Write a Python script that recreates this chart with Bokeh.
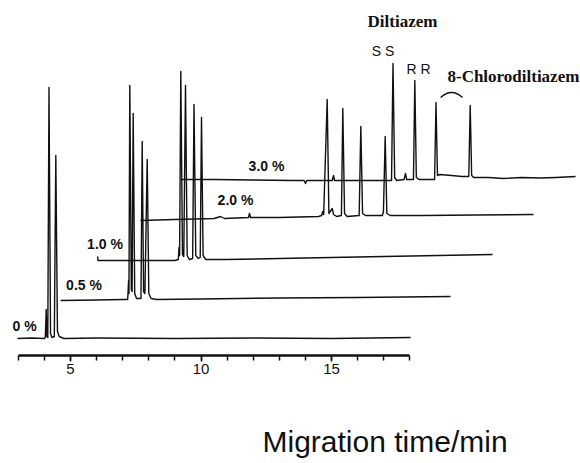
from bokeh.plotting import figure
from bokeh.models import FixedTicker, Range1d
from bokeh.core.properties import value
from bokeh.embed import file_html
from bokeh.resources import INLINE

# ---------------- data (x: migration time / min, y: detector signal, arbitrary units) -------------
t0_x = [2.97, 3.50, 4.00, 4.035, 4.069, 4.095, 4.13, 4.176, 4.235, 4.29, 4.38, 4.437, 4.50, 4.57, 4.75, 6.0, 9.0, 12.0, 15.0, 18.03]
t0_y = [17, 17.5, 17, 18, 46, 19, 18, 268, 22, 18, 19, 200, 24, 19, 17, 17.5, 17, 17.5, 17, 18]

t05_x = [4.62, 6.0, 7.0, 7.19, 7.21, 7.225, 7.24, 7.272, 7.33, 7.36, 7.402, 7.46, 7.53, 7.70, 7.747, 7.80, 7.85, 7.939, 8.00, 8.09, 8.3, 10.0, 13.0, 16.0, 19.56]
t05_y = [55, 55.5, 56, 56, 66, 75, 62, 270, 66, 64, 242, 62, 57, 57, 214, 64, 62, 196, 62, 57, 56, 56.5, 57.5, 58, 59]

t10_x = [6.046, 6.05, 7.5, 9.0, 9.13, 9.157, 9.18, 9.226, 9.29, 9.34, 9.406, 9.47, 9.55, 9.68, 9.732, 9.80, 9.90, 9.97, 10.019, 10.08, 10.18, 11.0, 14.0, 17.0, 21.17]
t10_y = [99, 95, 95, 95, 96, 108, 100, 284, 101, 99, 270, 100, 96, 97, 251, 100, 97, 98, 238, 100, 96, 96, 97.5, 99, 101]

t20_x = [7.682, 9.0, 10.5, 10.75, 10.9, 11.82, 11.858, 11.9, 13.0, 14.5, 14.62, 14.667, 14.70, 14.835, 14.90, 15.027, 15.08, 15.20, 15.38, 15.433, 15.50, 15.60, 16.06, 16.123, 16.19, 16.30, 16.95, 16.99, 17.057, 17.12, 17.25, 18.5, 20.5, 22.74]
t20_y = [135, 136, 137, 139, 137, 138, 142, 138, 138, 139, 140, 144, 141, 256, 142, 147, 141, 139, 140, 247, 142, 139, 140, 229, 142, 140, 140, 144, 219, 142, 140, 140, 140.5, 141]

t30_x = [9.215, 10.5, 12.0, 13.5, 13.95, 14.004, 14.05, 15.03, 15.077, 15.12, 16.5, 17.30, 17.356, 17.42, 17.50, 17.78, 17.835, 17.88, 18.14, 18.192, 18.25, 18.35, 18.95, 19.004, 19.06, 19.15, 19.6, 20.0, 20.26, 20.314, 20.37, 20.45, 21.0, 21.6, 22.3, 23.0, 23.6, 24.35]
t30_y = [176, 176, 175.5, 175, 175, 172, 175, 175, 180, 175, 175, 175, 292, 178, 175, 176, 182, 176, 176, 275, 178, 176, 176, 253, 180, 181, 180, 179, 179, 250, 180, 178, 178, 177, 178, 177.5, 178, 179]

trace_labels = ["0 %", "0.5 %", "1.0 %", "2.0 %", "3.0 %"]
trace_label_x = [3.238, 5.517, 6.322, 11.322, 12.51]
trace_label_y = [30, 71, 112, 156, 190]

peak_labels = ["S S", "R R"]
peak_label_x = [16.973, 18.333]
peak_label_y = [305, 287]

compound_labels = ["Diltiazem", "8-Chlorodiltiazem"]
compound_label_x = [17.72, 21.97]
compound_label_y = [334, 279]

# bracket over the 8-chlorodiltiazem peaks: start, control, end
bracket_x = [19.18, 19.60, 20.02]
bracket_y = [258, 268, 258]

major_ticks = [5, 10, 15]
minor_ticks = list(range(3, 19))
x_label = "Migration time/min"
x_label_pos = (12.356, -86)   # left end / baseline of the axis title

# ---------------- figure ----------------
p = figure(width=580, height=463, output_backend="svg", toolbar_location=None,
           x_range=Range1d(2.318, 24.540), y_range=Range1d(-108, 355),
           y_axis_type=None, min_border_left=0, min_border_right=0,
           min_border_top=0, min_border_bottom=0)
p.outline_line_color = None
p.grid.visible = False
p.background_fill_color = "white"
p.border_fill_color = "white"

ink = "#111111"
for xs, ys in [(t0_x, t0_y), (t05_x, t05_y), (t10_x, t10_y), (t20_x, t20_y), (t30_x, t30_y)]:
    p.line(xs, ys, line_color=ink, line_width=1.4, line_join="round")

p.quadratic(x0=[bracket_x[0]], y0=[bracket_y[0]], cx=[bracket_x[1]], cy=[bracket_y[1]],
            x1=[bracket_x[2]], y1=[bracket_y[2]], line_color=ink, line_width=1.4)

p.text(x=trace_label_x, y=trace_label_y, text=trace_labels, text_font=value("Liberation Sans"),
       text_font_style="bold", text_font_size="14px", text_align="center", text_baseline="middle",
       text_color=ink)
p.text(x=peak_label_x, y=peak_label_y, text=peak_labels, text_font=value("Liberation Sans"),
       text_font_size="14px", text_align="center", text_baseline="middle", text_color=ink)
p.text(x=compound_label_x, y=compound_label_y, text=compound_labels, text_font=value("Liberation Serif"),
       text_font_style="bold", text_font_size="17px", text_align="center", text_baseline="middle",
       text_color=ink)
p.text(x=[x_label_pos[0]], y=[x_label_pos[1]], text=[x_label], text_font=value("Liberation Sans"),
       text_font_size="30px", text_align="left", text_baseline="alphabetic", text_color=ink)

ax = p.xaxis[0]
ax.fixed_location = 0
ax.bounds = (3, 18)
ax.ticker = FixedTicker(ticks=major_ticks, minor_ticks=minor_ticks)
ax.axis_line_width = 2.5
ax.axis_line_color = ink
ax.major_tick_line_color = ink
ax.minor_tick_line_color = ink
ax.major_tick_line_width = 1.5
ax.minor_tick_line_width = 1.5
ax.major_tick_in = 0
ax.major_tick_out = 6
ax.minor_tick_in = 0
ax.minor_tick_out = 5
ax.major_label_standoff = 2
ax.major_label_text_font = "Liberation Sans"
ax.major_label_text_font_size = "15px"
ax.major_label_text_color = ink

open("out.html", "w").write(file_html(p, INLINE))
